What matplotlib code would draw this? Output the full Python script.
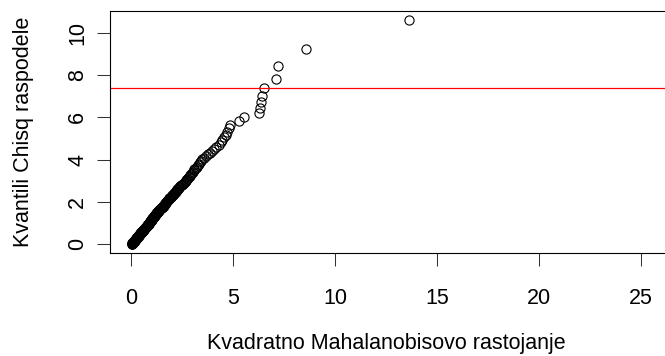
import matplotlib
matplotlib.use('Agg')
import matplotlib.pyplot as plt

plt.rcParams['font.family'] = ['Liberation Sans', 'DejaVu Sans']

# sorted squared Mahalanobis distances (x) against chi-square quantiles (y)
mahal_d2 = [
    0.02, 0.03, 0.04, 0.05, 0.05, 0.06, 0.07, 0.08, 0.09, 0.10,
    0.11, 0.12, 0.13, 0.14, 0.15, 0.15, 0.16, 0.17, 0.18, 0.19,
    0.20, 0.21, 0.22, 0.23, 0.24, 0.25, 0.26, 0.27, 0.28, 0.29,
    0.30, 0.31, 0.32, 0.33, 0.34, 0.35, 0.36, 0.37, 0.38, 0.39,
    0.40, 0.41, 0.42, 0.43, 0.44, 0.45, 0.46, 0.47, 0.49, 0.50,
    0.51, 0.52, 0.53, 0.55, 0.56, 0.57, 0.58, 0.59, 0.61, 0.62,
    0.63, 0.64, 0.66, 0.67, 0.68, 0.70, 0.71, 0.72, 0.74, 0.75,
    0.76, 0.78, 0.79, 0.80, 0.82, 0.83, 0.85, 0.86, 0.88, 0.89,
    0.91, 0.92, 0.93, 0.94, 0.96, 0.97, 0.98, 0.99, 1.00, 1.02,
    1.03, 1.04, 1.06, 1.07, 1.09, 1.10, 1.12, 1.13, 1.15, 1.16,
    1.18, 1.19, 1.21, 1.22, 1.24, 1.26, 1.28, 1.30, 1.32, 1.34,
    1.36, 1.38, 1.40, 1.43, 1.46, 1.49, 1.52, 1.54, 1.56, 1.58,
    1.60, 1.61, 1.63, 1.65, 1.67, 1.69, 1.71, 1.73, 1.76, 1.79,
    1.82, 1.85, 1.87, 1.90, 1.93, 1.96, 1.99, 2.02, 2.05, 2.08,
    2.11, 2.14, 2.17, 2.20, 2.23, 2.26, 2.29, 2.32, 2.36, 2.40,
    2.45, 2.50, 2.55, 2.60, 2.64, 2.67, 2.70, 2.74, 2.78, 2.82,
    2.86, 2.90, 2.94, 2.98, 3.02, 3.06, 3.10, 3.15, 3.20, 3.25,
    3.30, 3.35, 3.41, 3.48, 3.58, 3.68, 3.76, 3.85, 3.95, 4.06,
    4.17, 4.28, 4.38, 4.47, 4.57, 4.66, 4.72, 4.77, 4.83, 5.26,
    5.52, 6.27, 6.32, 6.37, 6.43, 6.50, 7.12, 7.19, 8.56, 13.61,
]

chisq_q = [
    0.010, 0.020, 0.030, 0.040, 0.050, 0.060, 0.071, 0.081, 0.092, 0.102,
    0.113, 0.123, 0.134, 0.145, 0.155, 0.166, 0.177, 0.188, 0.199, 0.210,
    0.221, 0.232, 0.243, 0.254, 0.266, 0.277, 0.289, 0.300, 0.312, 0.323,
    0.335, 0.347, 0.359, 0.371, 0.383, 0.395, 0.407, 0.419, 0.432, 0.444,
    0.456, 0.469, 0.482, 0.494, 0.507, 0.520, 0.533, 0.546, 0.559, 0.572,
    0.585, 0.598, 0.612, 0.625, 0.639, 0.653, 0.667, 0.681, 0.695, 0.709,
    0.723, 0.737, 0.752, 0.766, 0.781, 0.796, 0.811, 0.826, 0.841, 0.856,
    0.872, 0.887, 0.903, 0.918, 0.934, 0.950, 0.966, 0.982, 0.999, 1.015,
    1.032, 1.048, 1.065, 1.082, 1.100, 1.117, 1.134, 1.152, 1.170, 1.188,
    1.206, 1.224, 1.242, 1.261, 1.280, 1.299, 1.318, 1.337, 1.357, 1.376,
    1.396, 1.416, 1.437, 1.457, 1.478, 1.499, 1.520, 1.541, 1.563, 1.585,
    1.607, 1.629, 1.652, 1.675, 1.698, 1.721, 1.745, 1.769, 1.793, 1.818,
    1.843, 1.868, 1.893, 1.919, 1.945, 1.972, 1.998, 2.026, 2.053, 2.081,
    2.110, 2.138, 2.168, 2.197, 2.227, 2.258, 2.289, 2.320, 2.352, 2.385,
    2.418, 2.452, 2.486, 2.520, 2.556, 2.592, 2.629, 2.666, 2.704, 2.743,
    2.783, 2.823, 2.864, 2.906, 2.949, 2.993, 3.038, 3.084, 3.131, 3.179,
    3.229, 3.279, 3.331, 3.385, 3.440, 3.496, 3.554, 3.614, 3.675, 3.739,
    3.804, 3.872, 3.942, 4.015, 4.090, 4.169, 4.250, 4.336, 4.425, 4.518,
    4.615, 4.718, 4.826, 4.940, 5.061, 5.190, 5.328, 5.477, 5.637, 5.811,
    6.001, 6.212, 6.448, 6.715, 7.023, 7.388, 7.834, 8.409, 9.220, 10.607,
]

cutoff = 7.38
x_ticks = [0, 5, 10, 15, 20, 25]
y_ticks = [0, 2, 4, 6, 8, 10]

W, H = 665, 356
fig = plt.figure(figsize=(W / 100, H / 100), dpi=100)
# plot box ends at the right edge of the picture
ax = fig.add_axes([110 / W, (H - 253.3) / H, 555.5 / W, 242.3 / H])

ax.plot(mahal_d2, chisq_q, linestyle='none', marker='o', markersize=6.6,
        markerfacecolor='none', markeredgecolor='black', markeredgewidth=0.8)
ax.axhline(cutoff, color='red', linewidth=0.9)

ax.set_xlim(-1.045, 26.21)
ax.set_ylim(-0.426, 11.03)
ax.set_xticks(x_ticks)
ax.set_yticks(y_ticks)
ax.set_yticklabels([str(v) for v in y_ticks], rotation=90, va='center')
ax.tick_params(length=9.4, width=0.75, labelsize=15.5, color='#333333')
ax.tick_params(axis='x', pad=15.5)
ax.tick_params(axis='y', pad=6.3)
for sp in ax.spines.values():
    sp.set_linewidth(0.8)
ax.spines['right'].set_visible(False)

fig.text(386 / W, (H - 349) / H, 'Kvadratno Mahalanobisovo rastojanje',
         ha='center', va='baseline', fontsize=15.5)
fig.text(24 / W, (H - 132.2) / H, 'Kvantili Chisq raspodele',
         ha='center', va='center', rotation=90, fontsize=15.5)

fig.savefig('out.png', dpi=100)
